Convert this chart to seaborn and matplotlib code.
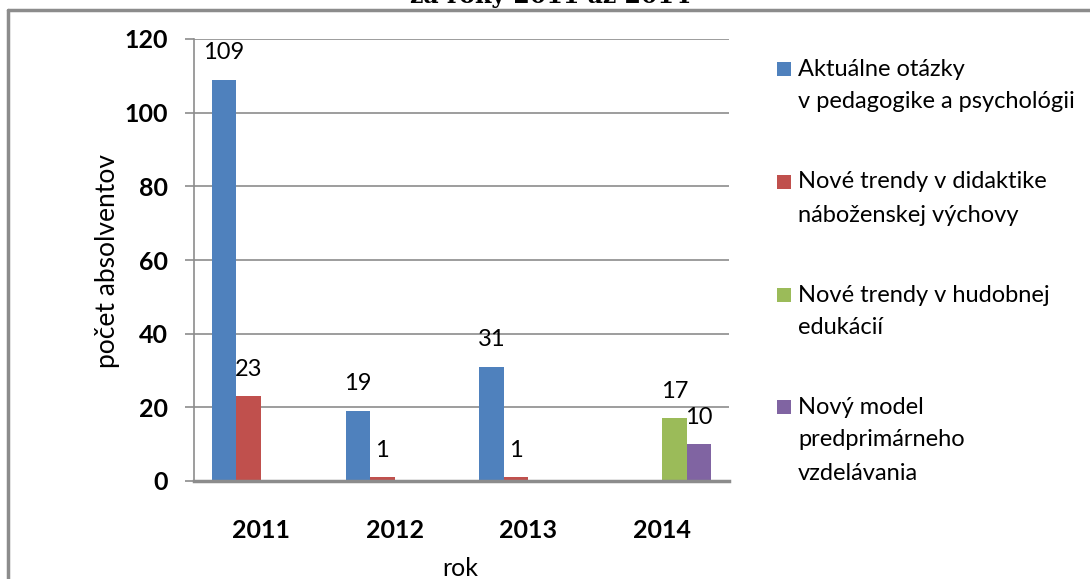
import matplotlib
matplotlib.use("Agg")
import matplotlib.pyplot as plt
import seaborn as sns
import pandas as pd
from matplotlib.patches import Rectangle
from matplotlib.lines import Line2D

years = ["2011", "2012", "2013", "2014"]
series = [
    "Aktuálne otázky\nv pedagogike a psychológii",
    "Nové trendy v didaktike\nnáboženskej výchovy",
    "Nové trendy v hudobnej\nedukácií",
    "Nový model\npredprimárneho\nvzdelávania",
]
aktualne = [109, 19, 31, None]
didaktika = [23, 1, 1, None]
hudobna = [None, None, None, 17]
predprimarne = [None, None, None, 10]
colors = ["#4F81BD", "#C0504D", "#9BBB59", "#8064A2"]
title = "za roky 2011 až 2014"
ylabel = "počet absolventov"
xlabel = "rok"

rows = []
for s, vals in zip(series, [aktualne, didaktika, hudobna, predprimarne]):
    for y, v in zip(years, vals):
        if v is not None:
            rows.append({"rok": y, "pocet": v, "program": s})
df = pd.DataFrame(rows)

sns.set_theme(style="white")
plt.rcParams["font.family"] = ["Lato", "DejaVu Sans"]

W, H = 1090, 579
fig = plt.figure(figsize=(W / 100, H / 100), dpi=100)
ax = fig.add_axes([194 / W, (H - 481) / H, 535 / W, 442 / H])

sns.barplot(data=df, x="rok", y="pocet", hue="program", order=years,
            hue_order=series, palette=colors, width=0.733, ax=ax,
            saturation=1, legend=False, errorbar=None, linewidth=0)

ax.set_xlim(-0.5, 3.5)
ax.set_ylim(0, 120)
ax.set_yticks(range(0, 121, 20))
ax.yaxis.grid(True, color="#8c8c8c", linewidth=1.2)
ax.set_axisbelow(True)
for sp in ["top", "right"]:
    ax.spines[sp].set_visible(False)
for sp in ["left", "bottom"]:
    ax.spines[sp].set_color("#8c8c8c")
    ax.spines[sp].set_linewidth(1.2)
ax.spines["bottom"].set_linewidth(2.5)
ax.tick_params(axis="y", left=True, length=6.5, width=1.2, color="#8c8c8c",
               pad=12, labelsize=18)
ax.tick_params(axis="x", bottom=False, pad=21, labelsize=18)
for lab in ax.get_xticklabels() + ax.get_yticklabels():
    lab.set_fontweight("bold")
    lab.set_color("black")
ax.set_xlabel("")
ax.set_ylabel("")

for cont in ax.containers:
    ax.bar_label(cont, padding=12, fontsize=17, color="black")

fig.text(107 / W, 1 - 261 / H, ylabel, rotation=90, ha="center", va="center",
         fontsize=19, color="black")
fig.text(460 / W, 1 - 569 / H, xlabel, ha="center", va="center",
         fontsize=18, color="black")
fig.text(550 / W, 1 + 4 / H, title, ha="center", va="center",
         fontsize=17, fontweight="bold", family=["DejaVu Serif"], color="black")

# chart border
fig.add_artist(Line2D([8 / W, 1], [1 - 10 / H, 1 - 10 / H], color="#8c8c8c",
                      linewidth=2.5, transform=fig.transFigure))
fig.add_artist(Line2D([8 / W, 8 / W], [0, 1 - 10 / H], color="#8c8c8c",
                      linewidth=2.5, transform=fig.transFigure))

# legend
first_line_y = [69, 182, 295, 407]
line_step = 33
for s, c, y0 in zip(series, colors, first_line_y):
    fig.add_artist(Rectangle((777 / W, 1 - (y0 + 7) / H), 14 / W, 14 / H,
                             facecolor=c, edgecolor="none",
                             transform=fig.transFigure))
    for i, line in enumerate(s.split("\n")):
        fig.text(798 / W, 1 - (y0 + i * line_step) / H, line, ha="left",
                 va="center", fontsize=17, color="black")

fig.savefig("out.png", dpi=100)
